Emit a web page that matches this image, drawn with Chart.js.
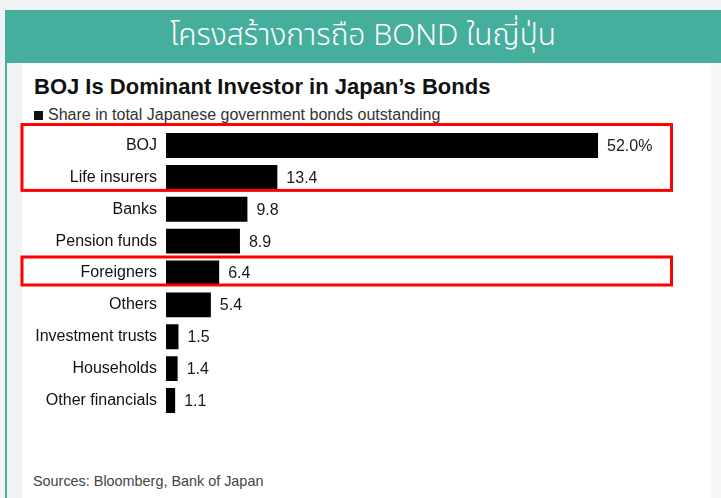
<!DOCTYPE html>
<html>
<head>
<meta charset="utf-8">
<script src="https://cdn.jsdelivr.net/npm/chart.js@4.4.1/dist/chart.umd.min.js"></script>
<style>
  html, body { margin: 0; padding: 0; }
  body {
    width: 721px; height: 498px; overflow: hidden; position: relative;
    background: #f1f2f3;
    font-family: "Liberation Sans", Arial, Helvetica, sans-serif;
  }
  #banner {
    position: absolute; left: 5px; top: 10px; width: 716px; height: 53px;
    background: #46ae9c; color: #fff;
    font-family: "Noto Sans Thai", "Noto Sans", "DejaVu Sans", sans-serif;
    font-weight: 300; font-size: 30px; line-height: 53px; text-align: center;
  }
  #edge { position: absolute; left: 5px; top: 63px; width: 2px; height: 435px; background: #46ae9c; }
  #rightstrip { position: absolute; left: 711px; top: 63px; width: 10px; height: 435px; background: #f7f8fa; }
  #panel { position: absolute; left: 22px; top: 63px; width: 689px; height: 435px; background: #fff; }
  #title {
    position: absolute; left: 34px; top: 74px;
    font-size: 22px; font-weight: bold; color: #111;
  }
  #subtitle {
    position: absolute; left: 34px; top: 106px; font-size: 16px; color: #333;
  }
  #subtitle .sq { display: inline-block; width: 9px; height: 9px; background: #111; margin-right: 5px; }
  #source {
    position: absolute; left: 33px; top: 473px; font-size: 14.4px; color: #444;
  }
  #wrap { position: absolute; left: 15px; top: 112px; width: 696px; height: 310px; }
</style>
</head>
<body>
<div id="banner">โครงสร้างการถือ BOND ในญี่ปุ่น</div>
<div id="edge"></div>
<div id="rightstrip"></div>
<div id="panel"></div>
<div id="title">BOJ Is Dominant Investor in Japan’s Bonds</div>
<div id="subtitle"><span class="sq"></span>Share in total Japanese government bonds outstanding</div>
<div id="wrap"><canvas id="myBarChart" width="696" height="310"></canvas></div>
<div id="source">Sources: Bloomberg, Bank of Japan</div>

<script>
const holders = [
    "BOJ",
    "Life insurers",
    "Banks",
    "Pension funds",
    "Foreigners",
    "Others",
    "Investment trusts",
    "Households",
    "Other financials",
];
const shares = [52.0, 13.4, 9.8, 8.9, 6.4, 5.4, 1.5, 1.4, 1.1];

// red highlight boxes, by category range
const highlights = [
    { from: "BOJ", to: "Life insurers", padTop: 21, padBottom: 13 },
    { from: "Foreigners", to: "Foreigners", padTop: 16, padBottom: 12 },
];

const valueLabels = {
    id: 'valueLabels',
    afterDatasetsDraw(chart) {
        const ctx = chart.ctx;
        const meta = chart.getDatasetMeta(0);
        ctx.save();
        ctx.font = '16px "Liberation Sans", Arial, sans-serif';
        ctx.fillStyle = '#1a1a1a';
        ctx.textBaseline = 'middle';
        ctx.textAlign = 'left';
        meta.data.forEach((bar, i) => {
            const v = shares[i];
            const txt = i === 0 ? v.toFixed(1) + '%' : v.toFixed(1);
            ctx.fillText(txt, bar.x + 9, bar.y + 1);
        });
        ctx.restore();
    }
};

const redBoxes = {
    id: 'redBoxes',
    afterDatasetsDraw(chart) {
        const ctx = chart.ctx;
        const y = chart.scales.y;
        const left = 7;
        const right = chart.chartArea.left + 505.5;
        ctx.save();
        ctx.strokeStyle = '#ff0000';
        ctx.lineWidth = 3;
        highlights.forEach(h => {
            const top = y.getPixelForValue(holders.indexOf(h.from)) - h.padTop;
            const bottom = y.getPixelForValue(holders.indexOf(h.to)) + h.padBottom;
            ctx.strokeRect(left, top, right - left, bottom - top);
        });
        ctx.restore();
    }
};

const barConfig = {
    type: 'bar',
    data: {
        labels: holders,
        datasets: [{
            label: "Share in total Japanese government bonds outstanding",
            backgroundColor: "#000000",
            data: shares,
            barPercentage: 0.78,
            categoryPercentage: 1.0,
        }]
    },
    options: {
        indexAxis: 'y',
        responsive: false,
        animation: false,
        layout: { padding: { left: 0, right: 46.5, top: 17.6, bottom: 5.6 } },
        scales: {
            x: { display: false, min: 0, max: 60 },
            y: {
                grid: { display: false, drawTicks: false },
                border: { display: false },
                ticks: {
                    padding: 9,
                    color: '#111',
                    font: { family: '"Liberation Sans", Arial, sans-serif', size: 16 }
                },
                afterFit(scale) {
                    scale.width = 151;
                    scale.paddingTop = 0;
                    scale.paddingBottom = 0;
                }
            }
        },
        plugins: {
            legend: { display: false },
            tooltip: { enabled: false }
        }
    },
    plugins: [valueLabels, redBoxes]
};

var ctx = document.getElementById("myBarChart");
var myBarChart = new Chart(ctx, barConfig);
</script>
</body>
</html>
